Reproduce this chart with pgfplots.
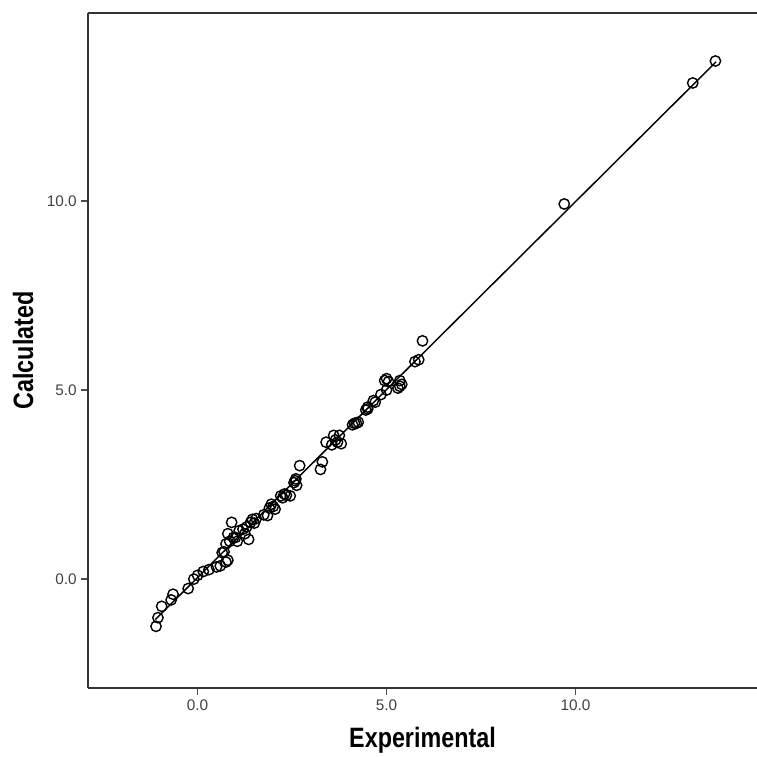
\documentclass[border=0pt]{standalone}
\usepackage{pgfplots}
\pgfplotsset{compat=1.18}
\usepackage{fontspec}
\setmainfont{Liberation Sans}

\pgfplotstableread{
x y
13.70 13.70
13.10 13.12
9.70 9.92
5.95 6.30
5.75 5.75
5.85 5.80
5.00 5.30
4.95 5.25
5.05 5.22
5.35 5.25
5.40 5.15
5.30 5.05
5.35 5.10
5.00 5.00
4.85 4.88
4.65 4.72
4.70 4.68
4.50 4.55
4.45 4.47
4.50 4.50
4.15 4.12
4.10 4.08
4.20 4.12
4.25 4.15
3.60 3.80
3.75 3.80
3.70 3.62
3.55 3.55
3.80 3.58
3.65 3.68
3.40 3.62
3.30 3.10
3.25 2.90
2.70 3.00
2.60 2.65
2.55 2.55
2.62 2.48
2.58 2.60
2.30 2.25
2.20 2.20
2.35 2.22
2.45 2.20
2.25 2.15
2.00 1.92
1.90 1.88
1.95 1.98
2.05 1.85
1.75 1.70
1.85 1.68
1.55 1.60
1.45 1.58
1.50 1.48
1.40 1.50
1.30 1.38
1.20 1.32
1.25 1.20
1.35 1.05
1.10 1.28
1.00 1.10
0.90 1.50
0.95 1.10
0.85 1.00
1.05 1.00
0.80 1.20
0.75 0.93
0.70 0.72
0.65 0.70
0.80 0.50
0.75 0.45
0.60 0.35
0.50 0.32
0.30 0.25
0.15 0.20
0.00 0.10
-0.10 0.00
-0.25 -0.25
-0.65 -0.40
-0.70 -0.55
-0.95 -0.72
-1.05 -1.02
-1.10 -1.25
}\points

\begin{document}
\begin{tikzpicture}
\useasboundingbox (-66pt,-51.75pt) rectangle (501.75pt,516pt);
\begin{axis}[
  scale only axis, width=501.75pt, height=506.25pt,
  xmin=-2.9, xmax=14.8, ymin=-2.88, ymax=14.97,
  axis x line=box, axis y line=left,
  axis line style={-, line width=1.4pt, black!80},
  xtick={0,5,10}, ytick={0,5,10},
  xticklabels={0.0,5.0,10.0}, yticklabels={0.0,5.0,10.0},
  xtick pos=bottom, ytick pos=left,
  tick align=outside, major tick length=5pt,
  tick style={line width=1pt, black!70},
  ticklabel style={font=\fontsize{11.5}{13}\selectfont, text=black!75},
  xlabel={\scalebox{1}[1.2]{\bfseries Experimental}},
  ylabel={\scalebox{1}[1.2]{\bfseries Calculated}},
  label style={font=\fontsize{17.5}{20}\selectfont},
  xlabel style={at={(axis description cs:0.5,-0.077)}, anchor=center},
  ylabel style={at={(axis description cs:-0.097,0.5)}, anchor=center, rotate=0},
  clip=false,
]
\addplot[black, line width=1.1pt, no marks] coordinates {(-1.12,-1.07) (13.72,13.68)};
\addplot[only marks, mark=o, mark size=3.9pt, mark options={line width=1.05pt, black}] table {\points};
\end{axis}
\end{tikzpicture}
\end{document}
